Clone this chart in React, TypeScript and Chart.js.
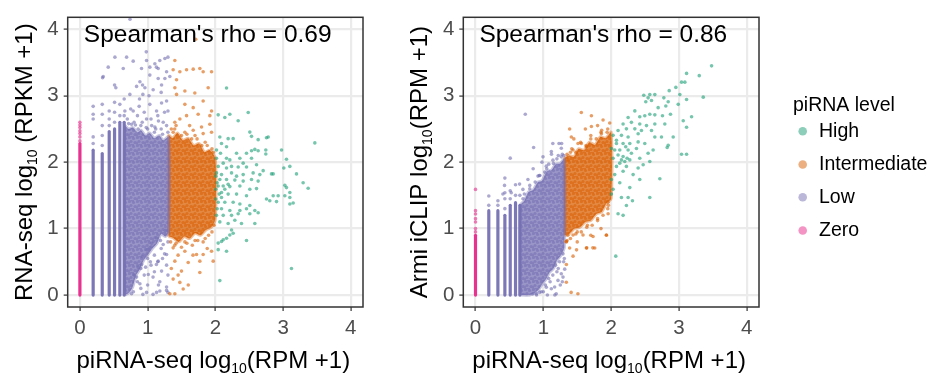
import React, { useEffect, useRef } from 'react';
import { Chart, registerables } from 'chart.js';
Chart.register(...registerables);

type P = [number, number];
type Seg = { t: string; sub?: boolean };

const FONT = "'Liberation Sans', Arial, Helvetica, sans-serif";
const LEVELS = ['High', 'Intermediate', 'Low', 'Zero'];
const LEVEL_COLORS = ['#1B9E77', '#D95F02', '#7570B3', '#E7298A'];
const AXIS_TICKS = [0, 1, 2, 3, 4];
const AXIS_MIN = -0.18;
const AXIS_MAX = 4.18;
const RHO_1 = 0.69;
const RHO_2 = 0.86;
const X_TITLE: Seg[] = [{ t: 'piRNA-seq log' }, { t: '10', sub: true }, { t: '(RPM +1)' }];
const Y_TITLE_1: Seg[] = [{ t: 'RNA-seq log' }, { t: '10', sub: true }, { t: ' (RPKM +1)' }];
const Y_TITLE_2: Seg[] = [{ t: 'Armi iCLIP log' }, { t: '10', sub: true }, { t: '(RPM +1)' }];

// discrete low-count piRNA columns
const STRIPE_X = [0.196, 0.33, 0.433, 0.512, 0.59, 0.654];

// ---------------- Panel 1 (RNA-seq) ----------------
const P1_ZERO_TOP = 2.28;
const P1_ZERO_POINTS: P[] = [[0, 2.32], [0, 2.38], [0, 2.43], [0, 2.47], [0, 2.52], [0, 2.56], [0, 2.6]];
const P1_STRIPE_TOP = [2.18, 2.13, 2.46, 2.5, 2.6, 2.6];
const P1_LOW_CORE: P[] = [[0.66, 0], [0.66, 2.55], [0.72, 2.5], [0.78, 2.52], [0.85, 2.45], [0.9, 2.48], [0.97, 2.4], [1.03, 2.44], [1.1, 2.36], [1.17, 2.4], [1.23, 2.33], [1.31, 2.38], [1.31, 0.95], [1.26, 0.88], [1.2, 0.92], [1.14, 0.78], [1.07, 0.7], [1.0, 0.6], [0.94, 0.52], [0.88, 0.38], [0.83, 0.3], [0.78, 0.12], [0.73, 0.04]];
const P1_LOW_POINTS: P[] = [
  [0.196, 2.28], [0.196, 2.38], [0.196, 2.65], [0.196, 2.72], [0.196, 2.84],
  [0.33, 2.25], [0.33, 2.4], [0.33, 2.55], [0.33, 2.72], [0.33, 2.87],
  [0.433, 2.55], [0.433, 2.65], [0.433, 2.77],
  [0.512, 2.6], [0.512, 2.75], [0.512, 2.9], [0.512, 3.16],
  [0.59, 2.7], [0.59, 2.87], [0.654, 2.7], [0.654, 2.95],
  [0.335, 3.27], [0.418, 3.43], [0.517, 3.58], [0.531, 3.12], [0.64, 3.41], [0.787, 3.52], [0.91, 3.41], [0.925, 3.16],
  [0.984, 3.53], [1.033, 3.43], [1.107, 3.48], [1.156, 3.41], [1.18, 3.53], [1.255, 3.56], [1.3, 3.58], [1.28, 3.36],
  [0.837, 3.14], [0.886, 3.21], [1.033, 3.31], [1.156, 3.26], [1.206, 3.16], [1.255, 3.26], [1.328, 3.29], [1.082, 3.09],
  [0.96, 3.12], [0.738, 3.02], [0.787, 2.77], [0.875, 2.84], [1.033, 2.87], [1.132, 2.77], [1.206, 2.89], [1.28, 2.92],
  [1.3, 2.77], [0.664, 2.77], [0.763, 2.57], [0.984, 2.65], [1.107, 2.53], [1.23, 2.6],
  [0.344, 3.29], [0.69, 3.58], [0.98, 3.66], [1.13, 3.43], [0.93, 3.02], [0.74, 4.15],
  [0.8, 2.6], [0.9, 2.55], [1.0, 2.5], [1.1, 2.45], [1.2, 2.5], [1.3, 2.45], [0.85, 2.7], [0.95, 2.75], [1.05, 2.65],
  [1.15, 2.7], [1.25, 2.75], [0.7, 2.65], [0.75, 2.8], [1.02, 3.0], [1.2, 3.05], [0.88, 2.95],
  [0.72, 2.58], [0.82, 2.56], [0.92, 2.6], [0.98, 2.52], [1.06, 2.55], [1.12, 2.5], [1.22, 2.42], [1.28, 2.55], [1.16, 2.62], [0.86, 2.5],
  [1.033, 0.71], [1.156, 0.51], [0.91, 0.46], [1.206, 0.36], [1.08, 0.27], [0.886, 0.17], [1.28, 0.12], [1.23, 0.76],
  [0.837, 0.27], [0.763, 0.02], [0.984, 0.04], [1.132, 0.04], [1.3, 0.04], [0.79, 0.05], [0.93, 0.01], [1.08, 0.01],
  [1.18, 0.06], [1.28, 0.07], [1.13, 0.46], [1.28, 0.61], [1.01, 0.31],
  [0.9, 0.4], [1.0, 0.55], [1.1, 0.6], [1.2, 0.7], [1.3, 0.8], [0.95, 0.3], [1.05, 0.45], [1.15, 0.5], [1.25, 0.62],
  [1.28, 0.45], [1.1, 0.35], [0.85, 0.2], [1.0, 0.15], [1.18, 0.2],
  [0.8, 0.3], [0.86, 0.42], [0.92, 0.58], [0.99, 0.68], [1.06, 0.78], [1.13, 0.86], [1.19, 0.82], [1.26, 0.97],
  [0.97, 0.42], [1.04, 0.5], [1.22, 0.55], [1.3, 0.3], [1.16, 0.15], [0.9, 0.1],
];
const P1_MID_CORE: P[] = [[1.31, 0.88], [1.31, 2.4], [1.37, 2.36], [1.44, 2.44], [1.52, 2.33], [1.6, 2.36], [1.68, 2.25], [1.76, 2.28], [1.84, 2.15], [1.92, 2.18], [2.0, 2.05], [2.0, 1.15], [1.94, 1.02], [1.86, 0.98], [1.78, 0.9], [1.7, 0.93], [1.62, 0.85], [1.54, 0.88], [1.46, 0.8], [1.38, 0.86]];
const P1_MID_POINTS: P[] = [
  [1.402, 3.53], [1.377, 3.39], [1.476, 3.36], [1.575, 3.39], [1.673, 3.4], [1.771, 3.41], [1.82, 3.36], [1.944, 3.36],
  [1.427, 3.24], [1.402, 3.12], [1.55, 3.07], [1.697, 3.04], [1.894, 3.12], [1.427, 3.02], [1.82, 2.92], [1.55, 2.87],
  [1.673, 2.82], [1.746, 2.72], [1.575, 2.7], [1.919, 2.7], [1.944, 2.77], [1.402, 2.6], [1.476, 2.65], [1.796, 2.53],
  [1.919, 2.57], [1.673, 2.48], [1.377, 2.45], [1.82, 2.43], [1.944, 2.45], [1.71, 3.85],
  [1.4, 2.5], [1.55, 2.45], [1.7, 2.4], [1.85, 2.3], [1.95, 2.2], [1.4, 0.75], [1.55, 0.8], [1.7, 0.82], [1.85, 0.85],
  [1.95, 0.95], [1.35, 0.4], [1.45, 0.3], [1.6, 0.15],
  [1.35, 2.5], [1.42, 2.55], [1.5, 2.4], [1.58, 2.42], [1.65, 2.35], [1.73, 2.35], [1.8, 2.25], [1.88, 2.25], [1.97, 2.15], [1.62, 2.55],
  [1.34, 0.8], [1.42, 0.78], [1.5, 0.72], [1.58, 0.78], [1.66, 0.75], [1.74, 0.82], [1.82, 0.8], [1.9, 0.9], [1.98, 1.05],
  [1.45, 0.6], [1.67, 0.6], [1.88, 0.7],
  [1.377, 0.71], [1.55, 0.66], [1.722, 0.61], [1.82, 0.61], [1.944, 0.66], [1.402, 0.51], [1.599, 0.49], [1.771, 0.51],
  [1.968, 0.51], [1.5, 0.36], [1.771, 0.34], [1.377, 0.24], [1.476, 0.19], [1.525, 0.09], [1.402, 0.02], [1.328, 0.02],
];
const P1_HIGH_POINTS: P[] = [
  [2.165, 3.115], [2.042, 2.712], [2.14, 2.673], [2.214, 2.722], [2.337, 2.624], [2.485, 2.747], [2.066, 2.378],
  [2.189, 2.354], [2.263, 2.354], [2.509, 2.452], [2.534, 2.388], [2.632, 2.339], [2.755, 2.368], [2.78, 2.378],
  [3.469, 2.29], [2.091, 2.28], [2.165, 2.231], [2.313, 2.133], [2.46, 2.133], [2.534, 2.172], [2.583, 2.192],
  [2.632, 2.172], [2.745, 2.182], [2.745, 2.123], [2.977, 2.182], [2.017, 2.059], [2.165, 2.059], [2.214, 2.034],
  [2.362, 2.059], [2.534, 2.059], [2.411, 1.985], [2.608, 1.961], [3.05, 2.044], [2.042, 1.936], [2.165, 1.912],
  [2.239, 1.936], [2.337, 1.926], [2.46, 1.926], [2.706, 1.872], [2.829, 1.823], [2.854, 1.823], [3.011, 1.912],
  [3.1, 1.936], [3.198, 1.823], [2.017, 1.838], [2.091, 1.813], [2.239, 1.838], [2.313, 1.789], [2.411, 1.813],
  [2.558, 1.838], [2.657, 1.813], [2.066, 1.74], [2.165, 1.74], [2.288, 1.73], [2.411, 1.715], [2.534, 1.74],
  [2.632, 1.715], [2.042, 1.641], [2.116, 1.641], [2.214, 1.632], [2.362, 1.641], [2.509, 1.592], [2.608, 1.602],
  [3.026, 1.651], [3.05, 1.617], [3.296, 1.691], [3.37, 1.607], [2.091, 1.543], [2.189, 1.519], [2.313, 1.519],
  [2.46, 1.494], [2.755, 1.445], [2.854, 1.494], [2.927, 1.494], [3.026, 1.494], [3.1, 1.543], [3.1, 1.469],
  [2.042, 1.396], [2.14, 1.396], [2.263, 1.396], [2.362, 1.371], [2.509, 1.347], [2.804, 1.42], [2.903, 1.406],
  [3.1, 1.371], [3.149, 1.386], [2.091, 1.298], [2.214, 1.273], [2.362, 1.273], [2.46, 1.298], [2.583, 1.273],
  [2.116, 1.199], [2.239, 1.199], [2.337, 1.224], [2.509, 1.224], [2.632, 1.239], [2.189, 1.076], [2.288, 1.126],
  [2.386, 1.076], [2.583, 1.076], [2.239, 0.978], [2.263, 0.929], [2.214, 0.904], [2.116, 0.831], [2.165, 0.855],
  [2.042, 0.782], [2.091, 0.806], [2.165, 0.659], [2.042, 0.683], [2.46, 0.821], [2.066, 0.217], [3.124, 0.399],
  [2.007, 1.789], [2.027, 1.691], [2.007, 1.592], [2.057, 1.519], [2.007, 1.445], [2.091, 1.469], [2.027, 1.298],
  [2.017, 1.199], [2.066, 1.101], [2.14, 1.592], [2.189, 1.666], [2.116, 1.985], [2.017, 2.182], [2.076, 2.133],
];

// ---------------- Panel 2 (Armi iCLIP) ----------------
const P2_ZERO_TOP = 0.9;
const P2_ZERO_POINTS: P[] = [[0, 0.95], [0, 1.0], [0, 1.1], [0, 1.15], [0, 1.22], [0, 1.27], [0, 1.59]];
const P2_STRIPE_TOP = [1.27, 1.27, 1.2, 1.35, 1.39, 1.35];
const P2_LOW_CORE: P[] = [[0.66, 0], [0.66, 1.35], [0.72, 1.42], [0.78, 1.55], [0.85, 1.58], [0.92, 1.7], [0.98, 1.72], [1.05, 1.86], [1.12, 1.88], [1.18, 1.97], [1.25, 1.98], [1.31, 2.05], [1.31, 0.72], [1.26, 0.6], [1.2, 0.52], [1.15, 0.4], [1.09, 0.34], [1.04, 0.24], [0.98, 0.16], [0.93, 0.08], [0.87, 0.03], [0.8, 0]];
const P2_LOW_POINTS: P[] = [
  [0.196, 1.35], [0.196, 1.49], [0.33, 1.35], [0.33, 1.42], [0.433, 1.3], [0.433, 1.45], [0.433, 1.54], [0.433, 1.76],
  [0.512, 1.45], [0.512, 1.57], [0.512, 2.06], [0.59, 1.5], [0.59, 1.66], [0.654, 1.5],
  [0.857, 2.22], [0.995, 2.08], [1.118, 2.16], [1.231, 2.28], [1.265, 2.21], [1.142, 2.03], [1.265, 2.08], [1.044, 1.94],
  [0.921, 1.79], [0.773, 1.74], [0.699, 1.59], [0.65, 1.67], [0.428, 1.65], [0.527, 1.54], [0.404, 1.52], [0.734, 2.72],
  [1.14, 2.28], [1.27, 2.28],
  [1.044, 0.118], [1.118, 0.094], [0.945, 0.04], [1.216, 0.22], [1.29, 0.27], [1.19, 0.02], [1.167, 0.12], [1.315, 0.39],
  [1.265, 0.32], [0.847, 0.02], [1.17, 0.0],
  [0.7, 1.45], [0.8, 1.6], [0.95, 1.8], [1.05, 1.9], [1.2, 2.05], [1.3, 2.1], [1.0, 0.05], [1.1, 0.2], [1.2, 0.35],
  [1.3, 0.5], [0.9, 0.02], [1.25, 0.15],
  [0.72, 1.52], [0.8, 1.65], [0.88, 1.7], [0.94, 1.8], [1.02, 1.85], [1.08, 1.97], [1.15, 1.98], [1.22, 2.1], [1.28, 2.12],
  [0.85, 1.9], [0.98, 2.0], [1.12, 2.12],
  [0.9, 0.0], [0.97, 0.05], [1.03, 0.15], [1.08, 0.25], [1.14, 0.3], [1.18, 0.45], [1.24, 0.5], [1.29, 0.62], [1.22, 0.4],
  [1.06, 0.0], [1.28, 0.2], [1.31, 0.55],
];
const P2_MID_CORE: P[] = [[1.31, 0.9], [1.31, 2.05], [1.38, 2.1], [1.45, 2.08], [1.52, 2.2], [1.6, 2.18], [1.68, 2.3], [1.76, 2.26], [1.84, 2.38], [1.92, 2.36], [2.0, 2.45], [2.0, 1.45], [1.93, 1.38], [1.86, 1.25], [1.78, 1.22], [1.7, 1.12], [1.62, 1.1], [1.54, 1.02], [1.46, 1.0], [1.38, 0.92]];
const P2_MID_POINTS: P[] = [
  [1.388, 2.5], [1.56, 2.747], [1.709, 2.698], [1.881, 2.634], [1.979, 2.59], [1.709, 2.536], [1.856, 2.427], [1.511, 2.28],
  [1.413, 2.378], [1.438, 2.182], [1.635, 2.231], [1.364, 2.034],
  [1.339, 0.806], [1.438, 0.904], [1.585, 0.904], [1.733, 0.88], [1.93, 0.904], [1.388, 0.708], [1.635, 0.708],
  [1.758, 0.708], [1.438, 0.585], [1.339, 0.192], [1.955, 1.224], [1.955, 1.396], [1.41, 0.04], [1.51, 0.02],
  [1.34, 0.46], [1.49, 0.68], [1.64, 0.71], [1.73, 0.71], [1.93, 0.9], [1.36, 0.9],
  [1.4, 2.15], [1.55, 2.3], [1.7, 2.35], [1.85, 2.45], [1.95, 2.5], [1.35, 0.82], [1.5, 0.95], [1.65, 1.05], [1.8, 1.15], [1.95, 1.3],
  [1.35, 2.12], [1.42, 2.2], [1.48, 2.15], [1.56, 2.28], [1.63, 2.25], [1.7, 2.4], [1.78, 2.35], [1.86, 2.48], [1.94, 2.45],
  [1.45, 2.35], [1.62, 2.5], [1.8, 2.55],
  [1.34, 0.8], [1.4, 0.85], [1.48, 0.92], [1.56, 0.95], [1.64, 1.02], [1.72, 1.05], [1.8, 1.12], [1.88, 1.2], [1.96, 1.35],
  [1.5, 0.8], [1.7, 0.9], [1.85, 1.0],
];
const P2_HIGH_POINTS: P[] = [
  [3.481, 3.449], [3.112, 3.336], [3.299, 3.302], [3.038, 3.204], [3.087, 3.204], [2.954, 3.125], [2.856, 3.076],
  [3.013, 3.017], [3.358, 2.978], [2.481, 3.007], [2.57, 3.017], [2.644, 3.017], [2.545, 2.968], [2.511, 2.909],
  [2.595, 2.928], [2.777, 2.968], [2.841, 2.909], [3.112, 2.943], [2.806, 2.845], [2.989, 2.87], [2.693, 2.82],
  [2.422, 2.683], [2.496, 2.698], [2.57, 2.722], [2.644, 2.712], [2.757, 2.698], [2.875, 2.722], [3.186, 2.683],
  [2.25, 2.673], [2.349, 2.771], [2.176, 2.575], [2.299, 2.599], [2.422, 2.575], [2.521, 2.55], [2.644, 2.575],
  [2.791, 2.575], [3.063, 2.624], [3.112, 2.526], [2.102, 2.477], [2.225, 2.501], [2.349, 2.501], [2.447, 2.477],
  [2.595, 2.477], [2.029, 2.403], [2.152, 2.403], [2.25, 2.378], [2.398, 2.427], [2.644, 2.378], [2.742, 2.378],
  [2.915, 2.378], [2.078, 2.28], [2.176, 2.28], [2.275, 2.28], [2.398, 2.305], [2.496, 2.28], [2.619, 2.182],
  [2.841, 2.255], [2.826, 2.221], [2.004, 2.206], [2.127, 2.182], [2.25, 2.182], [2.373, 2.206], [2.545, 2.133],
  [3.038, 2.118], [3.112, 2.118], [2.029, 2.059], [2.152, 2.034], [2.275, 2.034], [2.422, 2.059], [2.57, 2.01],
  [2.078, 1.936], [2.225, 1.936], [2.398, 1.912], [2.053, 1.813], [2.176, 1.862], [2.324, 1.813], [2.472, 1.961],
  [2.718, 1.75], [2.004, 1.74], [2.127, 1.691], [2.275, 1.617], [2.422, 1.74], [2.029, 1.592], [2.25, 1.469],
  [2.57, 1.469], [2.004, 1.519], [2.152, 1.469], [2.314, 1.42], [2.225, 1.347], [2.102, 1.224], [2.176, 1.199],
  [2.068, 0.585], [2.053, 2.182], [2.102, 2.108], [2.176, 2.084], [2.201, 2.01], [2.127, 1.985], [2.235, 2.059],
  [2.299, 2.133], [2.078, 2.329], [2.215, 2.231],
];

// ---------------- helpers ----------------
function rgba(hex: string, a: number) {
  const n = parseInt(hex.slice(1), 16);
  return `rgba(${(n >> 16) & 255},${(n >> 8) & 255},${n & 255},${a})`;
}
const toXY = (pts: P[]) => pts.map(([x, y]) => ({ x, y }));

// speckled texture used to paint the dense over-plotted cores
const TILE_DOTS: P[] = [[1.5, 1.5], [5.5, 2.5], [3, 5.5], [7, 6.5], [0.5, 7], [4.5, 0.2]];
function speckle(color: string): CanvasPattern | string {
  const c = document.createElement('canvas');
  c.width = 8;
  c.height = 8;
  const g = c.getContext('2d');
  if (!g) return rgba(color, 0.85);
  g.fillStyle = rgba(color, 0.74);
  g.fillRect(0, 0, 8, 8);
  g.fillStyle = rgba(color, 0.55);
  TILE_DOTS.forEach(([x, y]) => { g.beginPath(); g.arc(x, y, 1.6, 0, Math.PI * 2); g.fill(); });
  const pat = g.createPattern(c, 'repeat');
  return pat || rgba(color, 0.85);
}

function pointsDs(pts: P[], color: string) {
  return {
    type: 'scatter', data: toXY(pts), pointRadius: 1.8, pointHoverRadius: 1.8, pointBorderWidth: 0,
    backgroundColor: rgba(color, 0.6), borderColor: 'transparent', order: 1,
  };
}
function polyDs(pts: P[], color: string) {
  return {
    type: 'line', data: toXY([...pts, pts[0]]), showLine: true, fill: 'shape', tension: 0.25,
    backgroundColor: speckle(color), borderColor: rgba(color, 0.4), borderWidth: 3, pointRadius: 0, order: 10,
  };
}
function stripeDs(x: number, top: number, color: string) {
  return {
    type: 'line', data: [{ x, y: 0 }, { x, y: top }], showLine: true, fill: false, tension: 0,
    borderColor: rgba(color, 0.95), borderWidth: 3.2, borderCapStyle: 'round', pointRadius: 0, order: 5,
  };
}

function drawSegs(ctx: CanvasRenderingContext2D, segs: Seg[], cx: number, y: number, size: number, subSize: number, subShift: number) {
  const widths = segs.map((s) => {
    ctx.font = `${s.sub ? subSize : size}px ${FONT}`;
    return ctx.measureText(s.t).width;
  });
  const total = widths.reduce((a, b) => a + b, 0);
  let x = cx - total / 2;
  ctx.textAlign = 'left';
  ctx.textBaseline = 'alphabetic';
  segs.forEach((s, i) => {
    ctx.font = `${s.sub ? subSize : size}px ${FONT}`;
    ctx.fillText(s.t, x, y + (s.sub ? subShift : 0));
    x += widths[i];
  });
}

function makeDecor(cfg: { rho: number; yTitle: Seg[]; legend: boolean }) {
  return {
    id: 'decor',
    afterDatasetsDraw(chart: any) {
      const ctx: CanvasRenderingContext2D = chart.ctx;
      const a = chart.chartArea;
      ctx.save();
      ctx.strokeStyle = '#333333';
      ctx.lineWidth = 1.5;
      ctx.strokeRect(a.left, a.top, a.right - a.left, a.bottom - a.top);
      ctx.fillStyle = '#000000';
      ctx.font = `24.5px ${FONT}`;
      ctx.textAlign = 'center';
      ctx.textBaseline = 'alphabetic';
      ctx.fillText(`Spearman's rho = ${cfg.rho.toFixed(2)}`, a.left + 140, a.top + 25);
      drawSegs(ctx, X_TITLE, (a.left + a.right) / 2 - 2, a.bottom + 61, 24, 14, 5);
      ctx.save();
      ctx.translate(a.left - 36, (a.top + a.bottom) / 2);
      ctx.rotate(-Math.PI / 2);
      drawSegs(ctx, cfg.yTitle, 0, 0, 24, 14, 5);
      ctx.restore();
      if (cfg.legend) {
        ctx.textAlign = 'left';
        ctx.font = `19.5px ${FONT}`;
        ctx.fillStyle = '#000000';
        ctx.fillText('piRNA level', a.right + 34, 110.7);
        const baselines = [136.7, 170, 202.7, 236];
        LEVELS.forEach((lv, i) => {
          ctx.beginPath();
          ctx.fillStyle = rgba(LEVEL_COLORS[i], 0.5);
          ctx.arc(a.right + 43.7, baselines[i] - 5.5, 4.3, 0, Math.PI * 2);
          ctx.fill();
          ctx.fillStyle = '#000000';
          ctx.fillText(lv, a.right + 60, baselines[i]);
        });
      }
      ctx.restore();
    },
  };
}

function axisOpts(fit: (s: any) => void) {
  return {
    type: 'linear', min: AXIS_MIN, max: AXIS_MAX,
    afterBuildTicks: (s: any) => { s.ticks = AXIS_TICKS.map((v) => ({ value: v })); },
    afterFit: fit,
    grid: { color: '#EBEBEB', lineWidth: 2.2, drawTicks: true, tickLength: 4, tickColor: '#333333', tickWidth: 1.2 },
    border: { display: false },
    ticks: { font: { family: FONT, size: 20.5 }, color: '#4D4D4D', padding: 5 },
  };
}

function buildConfig(p: {
  zeroTop: number; zeroPts: P[]; stripeTop: number[]; lowCore: P[]; lowPts: P[]; midCore: P[]; midPts: P[]; highPts: P[];
  rho: number; yTitle: Seg[]; legend: boolean; yWidth: number; padRight: number;
}) {
  const [cHigh, cMid, cLow, cZero] = LEVEL_COLORS;
  const datasets: any[] = [
    pointsDs(p.highPts, cHigh),
    pointsDs(p.midPts, cMid),
    pointsDs(p.lowPts, cLow),
    pointsDs(p.zeroPts, cZero),
    stripeDs(0, p.zeroTop, cZero),
    ...STRIPE_X.map((x, i) => stripeDs(x, p.stripeTop[i], cLow)),
    polyDs(p.lowCore, cLow),
    polyDs(p.midCore, cMid),
  ];
  return {
    type: 'scatter',
    data: { datasets },
    options: {
      animation: false, responsive: false, devicePixelRatio: 1, events: [],
      layout: { padding: { left: 0, right: p.padRight, top: 11, bottom: 0 } },
      plugins: { legend: { display: false }, tooltip: { enabled: false } },
      scales: {
        x: axisOpts((s: any) => { s.height = 73; }),
        y: axisOpts((s: any) => { s.width = p.yWidth; }),
      },
    },
    plugins: [makeDecor({ rho: p.rho, yTitle: p.yTitle, legend: p.legend })],
  } as any;
}

export default function App() {
  const ref1 = useRef<HTMLCanvasElement>(null);
  const ref2 = useRef<HTMLCanvasElement>(null);
  useEffect(() => {
    const c1 = new Chart(ref1.current as HTMLCanvasElement, buildConfig({
      zeroTop: P1_ZERO_TOP, zeroPts: P1_ZERO_POINTS, stripeTop: P1_STRIPE_TOP, lowCore: P1_LOW_CORE, lowPts: P1_LOW_POINTS,
      midCore: P1_MID_CORE, midPts: P1_MID_POINTS, highPts: P1_HIGH_POINTS, rho: RHO_1, yTitle: Y_TITLE_1, legend: false,
      yWidth: 67.7, padRight: 17,
    }));
    const c2 = new Chart(ref2.current as HTMLCanvasElement, buildConfig({
      zeroTop: P2_ZERO_TOP, zeroPts: P2_ZERO_POINTS, stripeTop: P2_STRIPE_TOP, lowCore: P2_LOW_CORE, lowPts: P2_LOW_POINTS,
      midCore: P2_MID_CORE, midPts: P2_MID_POINTS, highPts: P2_HIGH_POINTS, rho: RHO_2, yTitle: Y_TITLE_2, legend: true,
      yWidth: 83.3, padRight: 173,
    }));
    return () => { c1.destroy(); c2.destroy(); };
  }, []);
  return (
    <div style={{ position: 'fixed', left: 0, top: 0, width: 932, height: 380, background: '#ffffff' }}>
      <canvas ref={ref1} width={380} height={380} style={{ position: 'absolute', left: 0, top: 0, width: 380, height: 380 }} />
      <canvas ref={ref2} width={552} height={380} style={{ position: 'absolute', left: 380, top: 0, width: 552, height: 380 }} />
    </div>
  );
}
